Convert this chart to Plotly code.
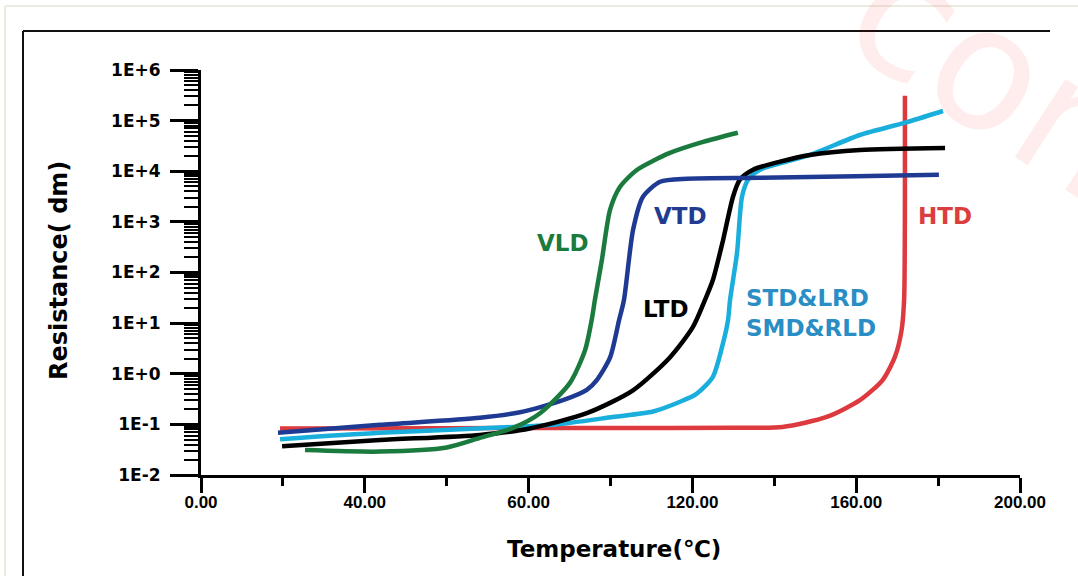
import plotly.graph_objects as go

# ---------------- data ----------------
x_ticks = [0, 40, 80, 120, 160, 200]
x_ticktext = ["0.00", "40.00", "60.00", "120.00", "160.00", "200.00"]
y_ticks = [1e-2, 1e-1, 1e0, 1e1, 1e2, 1e3, 1e4, 1e5, 1e6]
y_ticktext = ["1E-2", "1E-1", "1E+0", "1E+1", "1E+2", "1E+3", "1E+4", "1E+5", "1E+6"]

vld_x = [25.4, 43.7, 60.0, 68.1, 76.2, 82.8, 90.1, 93.8, 95.4, 96.2, 97.9, 99.9, 102.3, 106.5, 114.5, 122.6, 131.1]
vld_y = [0.031, 0.029, 0.035, 0.054, 0.085, 0.166, 0.66, 2.95, 11.5, 29, 178, 1740, 4900, 10700, 23000, 38000, 57500]

vtd_x = [18.8, 43.7, 68.1, 77.9, 88.4, 94.2, 96.7, 99.9, 102.1, 103.3, 105.5, 107.9, 112.1, 118.7, 136.5, 160.0, 180.2]
vtd_y = [0.068, 0.098, 0.135, 0.174, 0.30, 0.48, 0.76, 2.1, 11.5, 29, 690, 3100, 6200, 7100, 7400, 8000, 8500]

ltd_x = [19.8, 43.7, 68.1, 80.3, 94.2, 105.5, 114.5, 120.1, 123.1, 125.0, 127.5, 129.9, 131.6, 134.8, 141.4, 148.7, 160.9, 181.7]
ltd_y = [0.037, 0.049, 0.062, 0.083, 0.166, 0.47, 2.1, 8.3, 29, 71, 440, 3100, 6800, 10700, 15500, 21000, 26300, 28800]

std_x = [19.3, 43.7, 76.2, 86.0, 100.6, 110.4, 117.0, 121.0, 125.0, 127.5, 128.7, 129.2, 130.9, 132.1, 133.6, 136.5, 148.7, 160.9, 171.9, 181.2]
std_y = [0.051, 0.068, 0.089, 0.098, 0.14, 0.18, 0.28, 0.40, 0.87, 4.1, 11.5, 29, 245, 3100, 6800, 10700, 21000, 52000, 91000, 155000]

htd_x = [19.3, 60.0, 100.0, 130.0, 142.0, 152.8, 160.9, 166.5, 169.5, 171.1, 171.7, 171.9, 171.9]
htd_y = [0.083, 0.084, 0.085, 0.086, 0.089, 0.14, 0.30, 0.76, 2.2, 7.4, 29, 3000, 310000]

series = [
    ("VLD", vld_x, vld_y, "#1b7a3e"),
    ("VTD", vtd_x, vtd_y, "#1f3a93"),
    ("LTD", ltd_x, ltd_y, "#000000"),
    ("STD&LRD", std_x, std_y, "#1aaedc"),
    ("HTD", htd_x, htd_y, "#dd3a3f"),
]

labels = [
    ("VLD", 88.4, 2.585, "#1b7a3e", "center"),
    ("VTD", 117.2, 3.12, "#213b91", "center"),
    ("LTD", 113.5, 1.28, "#000000", "center"),
    ("STD&LRD<br>SMD&RLD", 132.6, 1.20, "#2a8ec5", "left"),
    ("HTD", 181.7, 3.12, "#dc3d3d", "center"),
]

# ---------------- figure ----------------
fig = go.Figure()
order = [4, 3, 2, 1, 0]
for i in order:
    name, xs, ys, col = series[i]
    fig.add_trace(go.Scatter(
        x=xs, y=ys, mode="lines", name=name,
        line=dict(color=col, width=4.5, shape="spline", smoothing=0.7),
        showlegend=False, hoverinfo="skip",
    ))

W, H = 1078, 576
L, R, T, B = 201, 58, 70, 101
pw, ph = W - L - R, H - T - B


def px(xp):
    return (xp - L) / pw


def py(yp):
    return (H - B - yp) / ph


font_family = "DejaVu Sans, Arial, sans-serif"

fig.update_layout(
    width=W, height=H,
    margin=dict(l=L, r=R, t=T, b=B),
    paper_bgcolor="white", plot_bgcolor="white",
    xaxis=dict(
        range=[0, 200], tickvals=x_ticks, ticktext=x_ticktext,
        showgrid=False, zeroline=False,
        showline=True, linecolor="black", linewidth=3,
        ticks="outside", ticklen=15, tickwidth=2.5, tickcolor="black",
        ticklabelstandoff=-5,
        minor=dict(dtick=20, tick0=0, ticks="outside", ticklen=8, tickwidth=2.5, tickcolor="black"),
        tickfont=dict(family="Liberation Sans, Arial", size=17, color="black", weight="bold"),
    ),
    yaxis=dict(
        type="log", range=[-2, 6], tickvals=y_ticks, ticktext=y_ticktext,
        showgrid=False, zeroline=False,
        showline=True, linecolor="black", linewidth=3,
        ticks="outside", ticklen=28, tickwidth=2.5, tickcolor="black",
        ticklabelstandoff=6,
        minor=dict(dtick="D1", ticks="outside", ticklen=14, tickwidth=2, tickcolor="black"),
        tickfont=dict(family=font_family, size=17, color="black", weight="bold"),
    ),
)

# series labels
for text, xv, ylog, col, al in labels:
    fig.add_annotation(
        x=xv, y=ylog, xref="x", yref="y", text=text, showarrow=False,
        xanchor="left" if al == "left" else "center", yanchor="middle", align=al,
        font=dict(family=font_family, size=23, color=col, weight="bold"),
    )

# axis titles
fig.add_annotation(
    x=px(614), y=py(549), xref="paper", yref="paper", text="Temperature(℃)",
    xanchor="center", yanchor="middle",
    showarrow=False, font=dict(family=font_family, size=23, color="black", weight="bold"),
)
fig.add_annotation(
    x=px(59), y=py(271), xref="paper", yref="paper", text="Resistance( dm)",
    xanchor="center", yanchor="middle",
    textangle=-90, showarrow=False,
    font=dict(family=font_family, size=24, color="black", weight="bold"),
)

# watermark
fig.add_annotation(
    x=px(1020), y=py(90), xref="paper", yref="paper", text="com",
    xanchor="center", yanchor="middle",
    textangle=33, showarrow=False,
    font=dict(family="DejaVu Sans, sans-serif", size=170, color="rgba(255,0,0,0.07)"),
)

# frames
fig.add_shape(type="line", xref="paper", yref="paper", x0=px(5), x1=px(1078), y0=py(6), y1=py(6),
              line=dict(color="#ecebe0", width=2))
fig.add_shape(type="line", xref="paper", yref="paper", x0=px(5), x1=px(5), y0=py(6), y1=py(576),
              line=dict(color="#ecebe0", width=2))
fig.add_shape(type="line", xref="paper", yref="paper", x0=px(23), x1=px(1050), y0=py(31), y1=py(31),
              line=dict(color="#111111", width=2))
fig.add_shape(type="line", xref="paper", yref="paper", x0=px(23), x1=px(23), y0=py(31), y1=py(576),
              line=dict(color="#111111", width=2))

fig.write_html("out.html", config={"displayModeBar": False},
               post_script="document.body.style.margin='0';")
